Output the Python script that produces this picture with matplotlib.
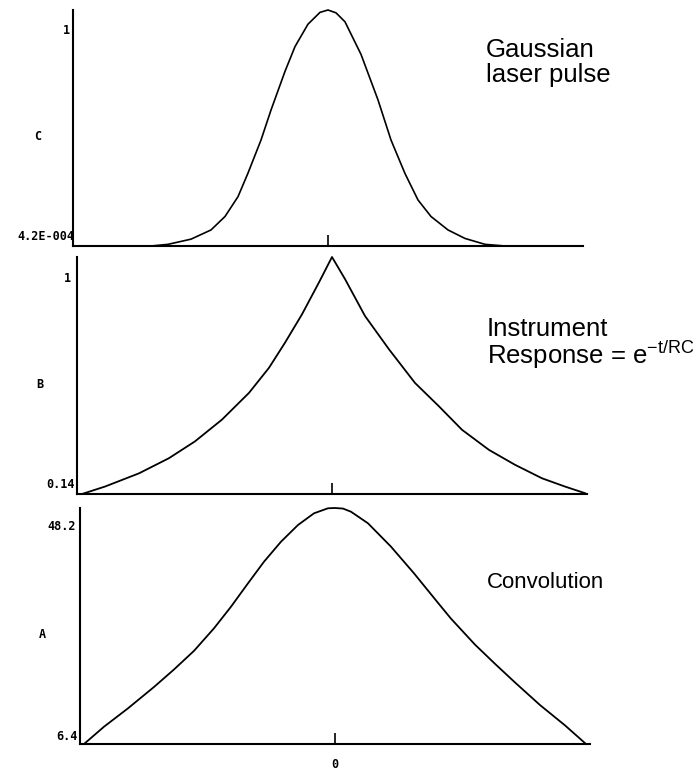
import matplotlib
matplotlib.use('Agg')
import matplotlib.pyplot as plt

# values (x in arbitrary time units, 0 = centre tick)
pulse_t = [-255, -177, -160, -137, -117, -103, -90, -80, -67, -57, -43, -33, -20, -8, 0,
           8, 17, 33, 50, 63, 77, 90, 103, 120, 137, 157, 177, 255]
pulse_c = [0.0, 0.0, 0.007, 0.029, 0.068, 0.125, 0.209, 0.309, 0.449, 0.576, 0.740, 0.845, 0.940, 0.990, 1.0,
           0.988, 0.950, 0.812, 0.619, 0.449, 0.307, 0.195, 0.125, 0.068, 0.032, 0.007, 0.0, 0.0]

resp_t = [-250, -227, -193, -163, -137, -110, -83, -63, -47, -30, -13, 0,
          13, 33, 57, 83, 107, 130, 157, 183, 210, 233, 253]
resp_b = [0.14, 0.167, 0.215, 0.270, 0.331, 0.410, 0.507, 0.598, 0.689, 0.792, 0.908, 1.0,
          0.920, 0.786, 0.665, 0.543, 0.458, 0.373, 0.300, 0.246, 0.197, 0.167, 0.143]

conv_t = [-251, -231, -207, -181, -161, -141, -121, -104, -87, -71, -54, -37, -21, -7, 0,
          8, 16, 33, 56, 79, 103, 116, 140, 160, 180, 205, 230, 251]
conv_a = [6.4, 9.46, 12.72, 16.5, 19.6, 22.9, 26.89, 30.72, 34.86, 38.69, 42.23, 45.19, 47.26, 48.15, 48.2,
          48.1, 47.54, 45.49, 41.35, 36.63, 31.4, 28.6, 24.0, 20.6, 17.3, 13.3, 9.7, 6.4]

W, H = 696, 771
fig = plt.figure(figsize=(W / 100, H / 100), dpi=100)


def px(x, y):
    return x / W, 1 - y / H


def make_axes(left, top, bottom, ylo, yhi):
    ax = fig.add_axes([left / W, 1 - bottom / H, 510 / W, (bottom - top) / H])
    ax.set_xlim(-255, 255)
    ax.set_ylim(ylo, yhi)
    for s in ['top', 'right']:
        ax.spines[s].set_visible(False)
    for s in ['left', 'bottom']:
        ax.spines[s].set_linewidth(1.5)
    ax.set_yticks([])
    ax.set_xticks([0])
    ax.tick_params(axis='x', direction='in', length=8, width=1.2)
    ax.patch.set_alpha(0)
    return ax


mono = dict(family='DejaVu Sans Mono', fontweight='bold', fontsize=8.5)

# panel C - gaussian pulse
axC = make_axes(73, 10, 246, 0, 1.0)
axC.plot(pulse_t, pulse_c, color='black', lw=1.2, clip_on=False)
axC.set_xticklabels([''])
fig.text(*px(70, 30), '1', ha='right', va='center', **mono)
fig.text(*px(38, 136), 'C', ha='center', va='center', **mono)
fig.text(*px(74, 236), '4.2E-004', ha='right', va='center', **mono)

# panel B - instrument response
axB = make_axes(77, 257, 494, 0.14, 1.0)
axB.plot(resp_t, resp_b, color='black', lw=1.3, clip_on=False)
axB.set_xticklabels([''])
fig.text(*px(71, 278), '1', ha='right', va='center', **mono)
fig.text(*px(40, 385), 'B', ha='center', va='center', **mono)
fig.text(*px(75, 485), '0.14', ha='right', va='center', **mono)

# panel A - convolution
axA = make_axes(80, 508, 744, 6.4, 48.2)
axA.plot(conv_t, conv_a, color='black', lw=1.3, clip_on=False)
axA.set_xticklabels(['0'], **mono)
axA.tick_params(axis='x', pad=10)
fig.text(*px(76, 527), '48.2', ha='right', va='center', **mono)
fig.text(*px(42, 634), 'A', ha='center', va='center', **mono)
fig.text(*px(78, 736), '6.4', ha='right', va='center', **mono)

# annotations on the right (va='baseline' pins the last line)
note = dict(family='Liberation Sans', fontsize=18.5, ha='left', va='baseline')
fig.text(*px(486, 82), 'Gaussian\nlaser pulse', linespacing=1.05, **note)
fig.text(*px(487, 364), 'Instrument\n' + r'Response = e$^{\mathregular{-t/RC}}$',
         linespacing=0.9, **note)
fig.text(*px(487, 588), 'Convolution', family='Liberation Sans', fontsize=16,
         ha='left', va='baseline')

fig.savefig('out.png', dpi=100)
